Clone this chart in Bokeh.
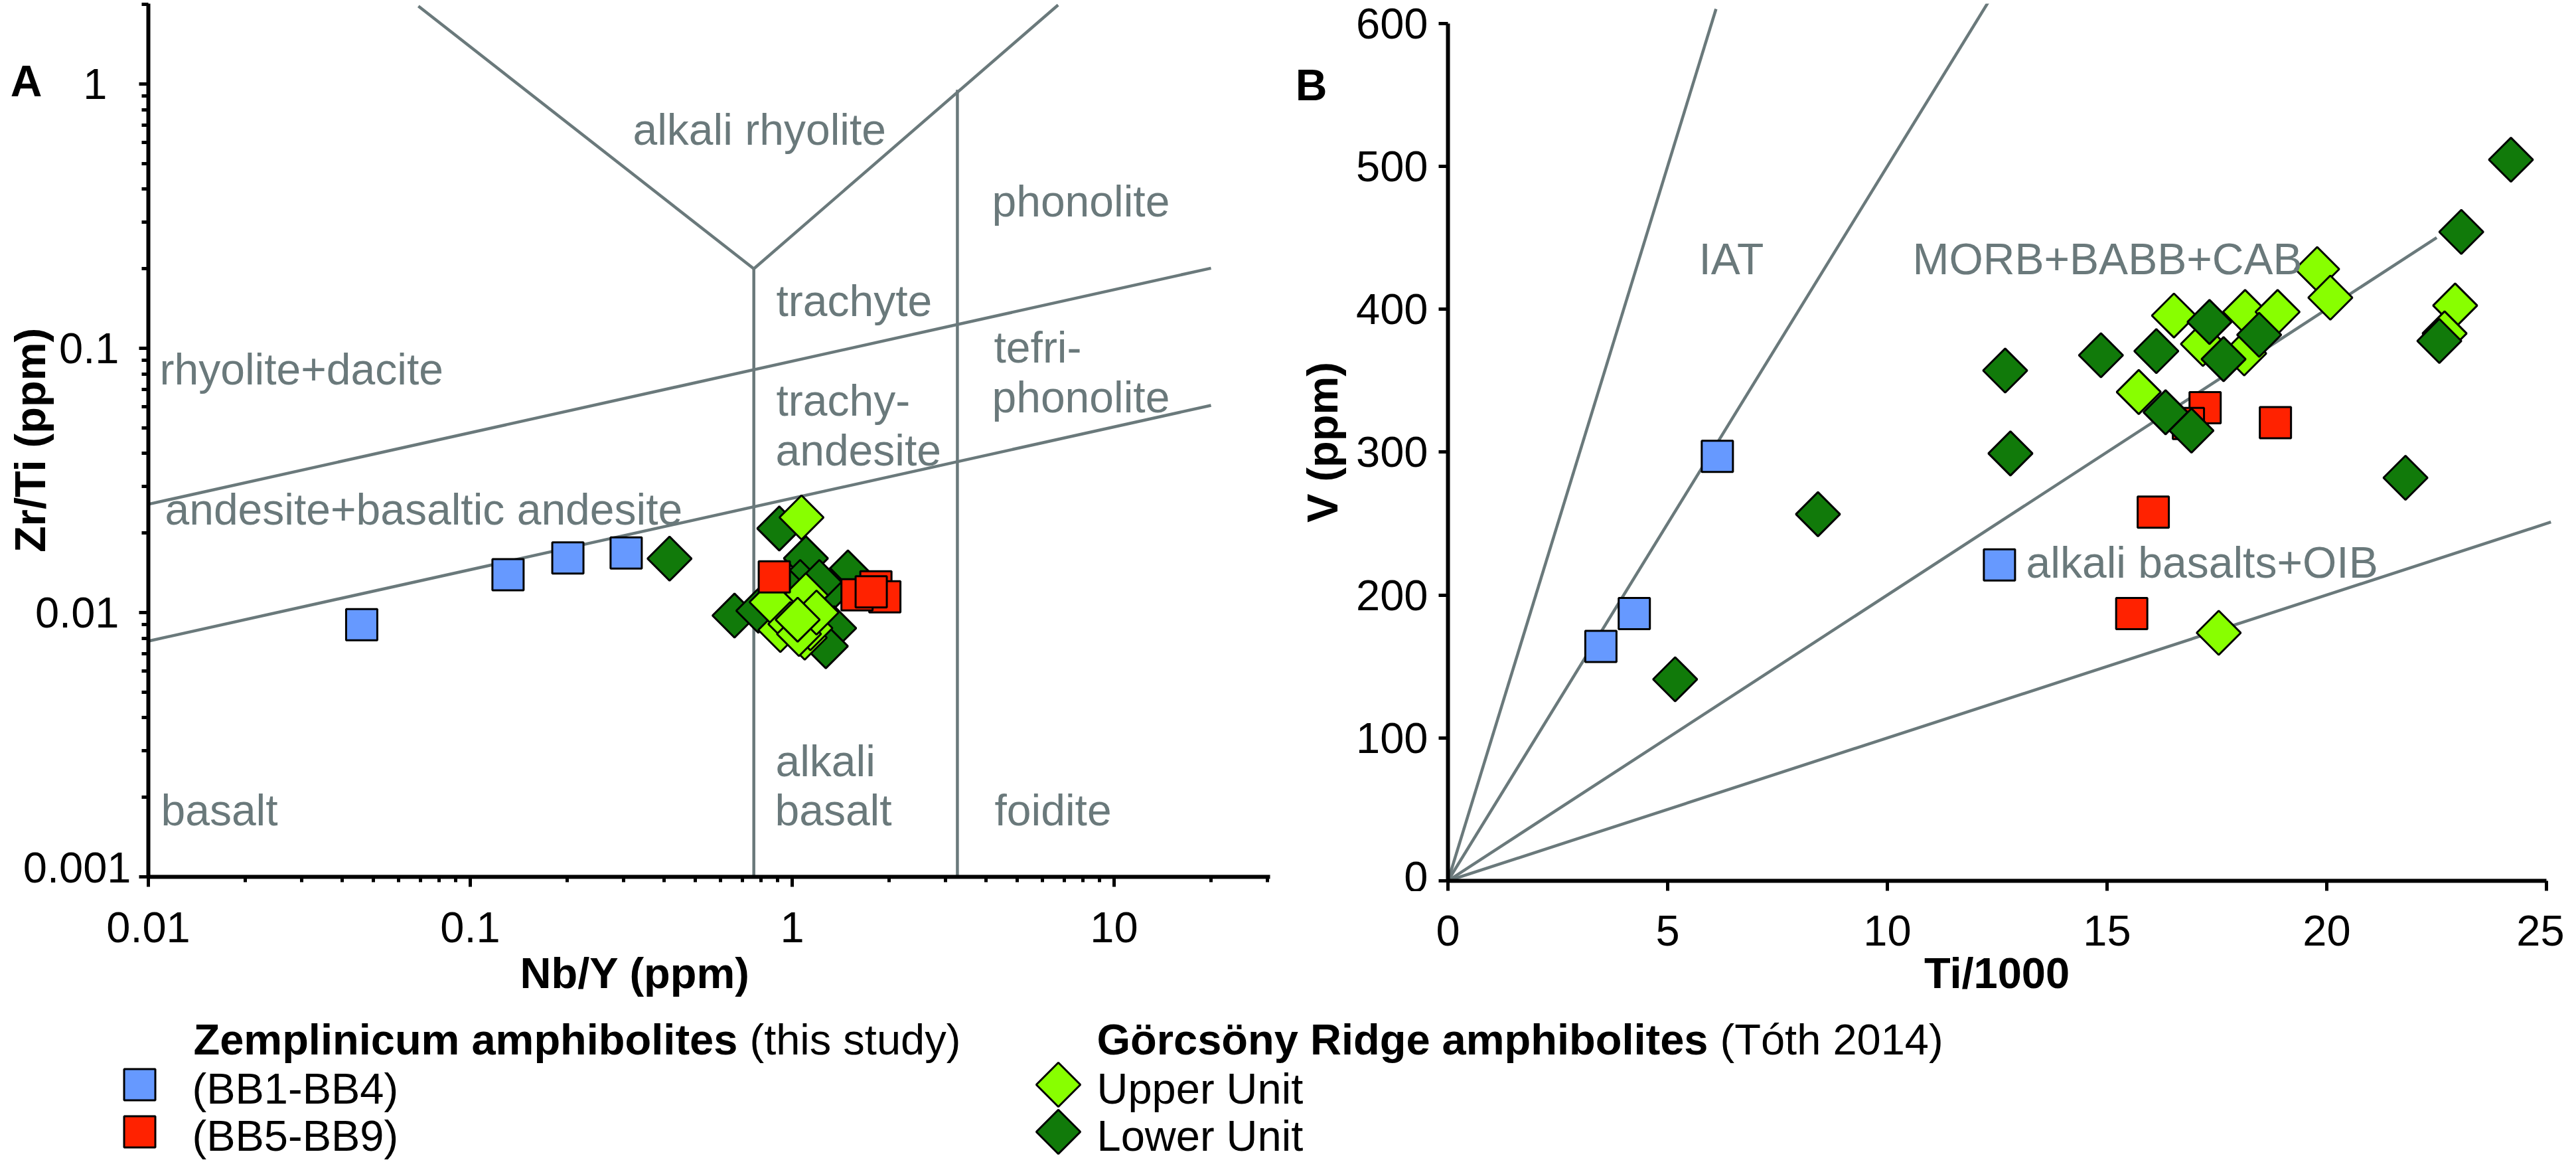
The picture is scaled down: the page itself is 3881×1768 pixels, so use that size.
import math
from bokeh.plotting import figure
from bokeh.models import Range1d, FixedTicker, CustomJSTickFormatter, Label, LogAxis, LinearAxis
from bokeh.layouts import column, row
from bokeh.embed import file_html
from bokeh.resources import INLINE
from bokeh.core.properties import value

FONT = "Liberation Sans"
GRAY = "#6a797b"
C_BLUE = "#6699ff"
C_RED = "#ff2200"
C_LG = "#88ff00"
C_DG = "#117a0a"

# ---------------- data: panel A (Nb/Y vs Zr/Ti) ----------------
BLUE_A_NBY = [0.046, 0.131, 0.201, 0.305]
BLUE_A_ZRTI = [0.0090, 0.0139, 0.0161, 0.0168]
RED_A_NBY = [0.88, 1.82, 1.94, 1.59, 1.76]
RED_A_ZRTI = [0.01364, 0.01251, 0.01147, 0.01167, 0.01199]
UPPER_A_NBY = [1.069, 0.919, 1.094, 0.987, 1.139, 1.103, 0.863, 0.987, 1.05, 1.19, 1.04]
UPPER_A_ZRTI = [0.0229, 0.00859, 0.00804, 0.01026, 0.00873, 0.01162, 0.01095, 0.00905, 0.0083, 0.0100, 0.0094]
LOWER_A_NBY = [0.416, 0.662, 0.912, 1.103, 1.49, 1.313, 1.059, 1.35, 0.785, 1.272, 1.215, 0.944]
LOWER_A_ZRTI = [0.0160, 0.00974, 0.0208, 0.01604, 0.01418, 0.01213, 0.01305, 0.00873, 0.01016, 0.00746, 0.01305, 0.01255]

# classification boundaries (Pearce 1996)
BND_UPPER_X = [0.01, 20]
BND_UPPER_Y = [0.0257, 0.201]
BND_LOWER_X = [0.01, 20]
BND_LOWER_Y = [0.0078, 0.0608]
BND_V1_X = [0.76, 0.76]
BND_V1_Y = [0.001, 0.2]
BND_V2_X = [3.26, 3.26]
BND_V2_Y = [0.001, 0.95]
BND_ARM_L_X = [0.069, 0.76]
BND_ARM_L_Y = [1.97, 0.2]
BND_ARM_R_X = [0.76, 6.7]
BND_ARM_R_Y = [0.2, 1.99]

# ---------------- data: panel B (Ti/1000 vs V) ----------------
BLUE_B_TI = [3.48, 4.24, 6.13, 12.55]
BLUE_B_V = [164, 187, 297, 221]
RED_B_TI = [17.23, 16.85, 18.83, 16.05, 15.56]
RED_B_V = [331, 320, 320.5, 258, 187]
UPPER_B_TI = [16.52, 18.14, 18.88, 17.18, 18.12, 19.78, 20.08, 22.92, 22.68, 15.72, 17.54]
UPPER_B_V = [395.5, 398, 398, 375.6, 369, 428, 408, 402.5, 383, 342, 173.5]
LOWER_B_TI = [5.17, 8.42, 12.68, 12.80, 14.86, 16.12, 17.33, 18.46, 17.65, 23.06, 24.19, 22.56, 21.79, 16.33, 16.92]
LOWER_B_V = [141, 256.5, 357, 299, 367.7, 370.6, 391, 382, 365, 454, 504.5, 377.7, 282, 327.8, 315]

# Ti/V reference lines (10, 20, 50, 100)
LINE10_TI = [0, 6.1]
LINE10_V = [0, 610]
LINE20_TI = [0, 12.35]
LINE20_V = [0, 617.5]
LINE50_TI = [0, 22.5]
LINE50_V = [0, 450]
LINE100_TI = [0, 25.1]
LINE100_V = [0, 251]

A_XTICKS = [0.01, 0.1, 1, 10]
A_XTICK_LABELS = ["0.01", "0.1", "1", "10"]
A_XMINOR = [m * d for d in (0.01, 0.1, 1) for m in range(2, 10)] + [20, 30]
A_YTICKS = [0.001, 0.01, 0.1, 1]
A_YMINOR = [m * d for d in (0.001, 0.01, 0.1) for m in range(2, 10)] + [2]
B_XTICKS = [0, 5, 10, 15, 20, 25]
B_XTICK_LABELS = ["0", "5", "10", "15", "20", "25"]
B_YTICKS = [0, 100, 200, 300, 400, 500, 600]

# ---------------- geometry (page pixels) ----------------
PAGE_BOTTOM = 1758
TEXT_DY = -17          # compensation of the renderer's alphabetic-baseline offset
BOTTOM_BORDER = 22
A_FIG_L, A_FIG_R = 8, 1950
A_L, A_R, A_T, A_B = 231, 1921, 13, 1328
XA0, XA1 = 0.01, 10 ** (-2 + (A_R - A_L) / 485.0)
YA0, YA1 = 0.001, 10 ** (-3 + (A_B - A_T) / 398.0)

B_FIG_L, B_FIG_R = 1950, 3873
B_L, B_T, B_B = 2189, 8, 1329
B_PX_X = (3844 - 2189) / 25.0
B_X_END = 25.3
B_FRAME_W = int(round(B_X_END * B_PX_X))
B_PX_Y = (1329 - 37.5) / 600.0
B_Y_END = (B_B - B_T) / B_PX_Y
ROW_BOTTOM = A_B + BOTTOM_BORDER


def ax(X):
    return 10 ** (math.log10(XA0) + (X - A_L) / (A_R - A_L) * math.log10(XA1 / XA0))


def ax_page(v):
    return A_L + (math.log10(v) - math.log10(XA0)) / math.log10(XA1 / XA0) * (A_R - A_L)


def ay(Y):
    return 10 ** (math.log10(YA1) - (Y - A_T) / (A_B - A_T) * math.log10(YA1 / YA0))


def bx(X):
    return (X - B_L) / B_PX_X


def bx_page(v):
    return B_L + v * B_PX_X


def by(Y):
    return (B_B - Y) / B_PX_Y


def style_axes(p, yt_out, y_standoff, xminor_out=0, yminor_out=0):
    for axis, tout, mout in ((p.xaxis[0], 15, xminor_out), (p.yaxis[0], yt_out, yminor_out)):
        axis.axis_line_width = 6
        axis.axis_line_color = "black"
        axis.major_tick_line_width = 5
        axis.minor_tick_line_width = 5
        axis.major_tick_line_color = "black"
        axis.minor_tick_line_color = "black"
        axis.major_tick_in = 0
        axis.major_tick_out = tout
        axis.minor_tick_in = 0
        axis.minor_tick_out = mout
        axis.major_label_text_font = FONT
        axis.major_label_text_color = "black"
        axis.axis_label = None
    # y tick labels are drawn by the axis itself
    p.yaxis[0].major_label_text_font_size = "65px"
    p.yaxis[0].major_label_standoff = y_standoff
    # x tick labels are set as text in the strip below (frame stays exact)
    p.xaxis[0].major_label_text_font_size = "1px"
    p.xaxis[0].major_label_standoff = 0
    p.xaxis[0].formatter = CustomJSTickFormatter(code="return '';")
    p.grid.visible = False
    p.outline_line_color = None
    p.background_fill_color = "white"
    p.border_fill_color = "white"


def set_ylabel(axis, text, standoff):
    axis.axis_label = text
    axis.axis_label_text_font = FONT
    axis.axis_label_text_font_size = "65px"
    axis.axis_label_text_font_style = "bold"
    axis.axis_label_text_color = "black"
    axis.axis_label_standoff = standoff


def letter_axis(p, cls, tick, letter, standoff):
    a = cls(ticker=FixedTicker(ticks=[tick]),
            formatter=CustomJSTickFormatter(code="return '%s';" % letter))
    a.axis_line_color = None
    a.major_tick_line_color = None
    a.minor_tick_line_color = None
    a.major_tick_out = 0
    a.major_tick_in = 0
    a.major_label_standoff = standoff
    a.major_label_text_font = FONT
    a.major_label_text_font_size = "66px"
    a.major_label_text_font_style = "bold"
    a.major_label_text_color = "black"
    p.add_layout(a, "left")


def add_label(p, text, x, y, size="66px", color=GRAY, bold=False, align="left", angle=0.0):
    p.add_layout(Label(x=x, y=y, text=text, text_font=FONT, text_font_size=size,
                       text_font_style="bold" if bold else "normal", text_color=color,
                       text_align=align, text_baseline="alphabetic", angle=angle))


def marker(p, xs, ys, color, diamond):
    p.scatter(xs, ys, marker="square", size=47, angle=(math.pi / 4 if diamond else 0.0),
              fill_color=color, line_color="black", line_width=3)


# ---------------- panel A ----------------
pA = figure(frame_width=A_R - A_L, frame_height=A_B - A_T, x_axis_type="log", y_axis_type="log",
            x_range=Range1d(XA0, XA1), y_range=Range1d(YA0, YA1), title=None,
            min_border_left=A_L - A_FIG_L, min_border_right=A_FIG_R - A_R,
            min_border_top=A_T - 8, min_border_bottom=BOTTOM_BORDER,
            output_backend="svg", toolbar_location=None)
style_axes(pA, 14, 12, xminor_out=8, yminor_out=10)
pA.xaxis[0].ticker = FixedTicker(ticks=A_XTICKS, minor_ticks=A_XMINOR)
pA.yaxis[0].ticker = FixedTicker(ticks=A_YTICKS, minor_ticks=A_YMINOR)
pA.yaxis[0].formatter = CustomJSTickFormatter(
    code="const m = {'1': '1\\u00a0\\u00a0', '0.1': '0.1\\u00a0', '0.01': '0.01\\u00a0'};"
         "const s = tick.toString(); return (s in m) ? m[s] : s;")
set_ylabel(pA.yaxis[0], "Zr/Ti (ppm)", -50)
letter_axis(pA, LogAxis, ay(129), "A", -58)

for bx_, by_ in ((BND_UPPER_X, BND_UPPER_Y), (BND_LOWER_X, BND_LOWER_Y), (BND_V1_X, BND_V1_Y),
                 (BND_V2_X, BND_V2_Y), (BND_ARM_L_X, BND_ARM_L_Y), (BND_ARM_R_X, BND_ARM_R_Y)):
    pA.line(bx_, by_, line_color=GRAY, line_width=4.5)

marker(pA, LOWER_A_NBY, LOWER_A_ZRTI, C_DG, True)
marker(pA, UPPER_A_NBY, UPPER_A_ZRTI, C_LG, True)
marker(pA, BLUE_A_NBY, BLUE_A_ZRTI, C_BLUE, False)
marker(pA, RED_A_NBY, RED_A_ZRTI, C_RED, False)

A_TEXTS = [("alkali rhyolite", 961, 219), ("phonolite", 1502, 327), ("trachyte", 1177, 477),
           ("tefri-", 1505, 547), ("phonolite", 1502, 622), ("rhyolite+dacite", 248, 580),
           ("trachy-", 1177, 627), ("andesite", 1176, 702), ("andesite+basaltic andesite", 256, 791),
           ("alkali", 1176, 1170), ("basalt", 1175, 1244), ("basalt", 250, 1244), ("foidite", 1506, 1244)]
for t, X, Y in A_TEXTS:
    add_label(pA, t, ax(X), ay(Y + TEXT_DY))

# ---------------- panel B ----------------
pB = figure(frame_width=B_FRAME_W, frame_height=B_B - B_T, title=None,
            x_range=Range1d(0, B_X_END), y_range=Range1d(0, B_Y_END),
            min_border_left=B_L - B_FIG_L, min_border_right=B_FIG_R - B_L - B_FRAME_W,
            min_border_top=0, min_border_bottom=ROW_BOTTOM - B_B,
            output_backend="svg", toolbar_location=None)
style_axes(pB, 14, 16)
pB.xaxis[0].ticker = FixedTicker(ticks=B_XTICKS)
pB.yaxis[0].ticker = FixedTicker(ticks=B_YTICKS)
pB.xaxis[0].bounds = (0, 25)
pB.yaxis[0].bounds = (0, 600)
set_ylabel(pB.yaxis[0], "V (ppm)", 11)
letter_axis(pB, LinearAxis, by(130), "B", -46)

for lx, ly in ((LINE10_TI, LINE10_V), (LINE20_TI, LINE20_V), (LINE50_TI, LINE50_V), (LINE100_TI, LINE100_V)):
    pB.line(lx, ly, line_color=GRAY, line_width=4.5)

add_label(pB, "IAT", bx(2567), by(409 + TEXT_DY))
add_label(pB, "MORB+BABB+CAB", bx(2889), by(409 + TEXT_DY))
add_label(pB, "alkali basalts+OIB", bx(3060), by(866 + TEXT_DY))

marker(pB, BLUE_B_TI, BLUE_B_V, C_BLUE, False)
marker(pB, RED_B_TI, RED_B_V, C_RED, False)
marker(pB, UPPER_B_TI, UPPER_B_V, C_LG, True)
marker(pB, LOWER_B_TI, LOWER_B_V, C_DG, True)

# ---------------- bottom strip: x tick labels, axis titles, legend ----------------
BOT_T = ROW_BOTTOM
pL = figure(width=3865, height=PAGE_BOTTOM - BOT_T, x_range=Range1d(8, 3873),
            y_range=Range1d(PAGE_BOTTOM, BOT_T),
            min_border=0, x_axis_location=None, y_axis_location=None, title=None,
            output_backend="svg", toolbar_location=None)
pL.grid.visible = False
pL.outline_line_color = None


def ltext(p, xs, ys, texts, bold=False, align="left"):
    p.text(x=xs, y=[v + TEXT_DY for v in ys], text=texts, text_font=value(FONT), text_font_size="65px",
           text_font_style="bold" if bold else "normal", text_color="black",
           text_align=align, text_baseline="alphabetic")


# tick labels of both x axes, placed at the mapped tick positions
ltext(pL, [ax_page(v) for v in A_XTICKS], [1421] * len(A_XTICKS), A_XTICK_LABELS, align="center")
b_tick_x = [min(bx_page(v), 3873 - 38) for v in B_XTICKS]
ltext(pL, b_tick_x, [1426] * len(B_XTICKS), B_XTICK_LABELS, align="center")

ltext(pL, [791], [1490], ["Nb/Y (ppm)"], bold=True)
ltext(pL, [3016], [1490], ["Ti/1000"], bold=True, align="center")

EM = 65.0
SP = 0.278 * EM
LEG1_X, LEG2_X = 299, 1660
ROW0, ROW1, ROW2 = 1590, 1664, 1735
ltext(pL, [LEG1_X, LEG2_X], [ROW0, ROW0], ["Zemplinicum amphibolites", "Görcsöny Ridge amphibolites"], bold=True)
ltext(pL, [LEG1_X + 12.614 * EM + SP, LEG2_X + 14.170 * EM + SP], [ROW0, ROW0], ["(this study)", "(Tóth 2014)"])
ltext(pL, [LEG1_X - 2, LEG1_X - 2, LEG2_X, LEG2_X], [ROW1, ROW2, ROW1, ROW2],
      ["(BB1-BB4)", "(BB5-BB9)", "Upper Unit", "Lower Unit"])
marker(pL, [218], [ROW1 - 23], C_BLUE, False)
marker(pL, [218], [ROW2 - 23], C_RED, False)
marker(pL, [LEG2_X - 58], [ROW1 - 23], C_LG, True)
marker(pL, [LEG2_X - 58], [ROW2 - 23], C_DG, True)

layout = column(row(pA, pB), pL)
open("out.html", "w").write(file_html(layout, INLINE))
